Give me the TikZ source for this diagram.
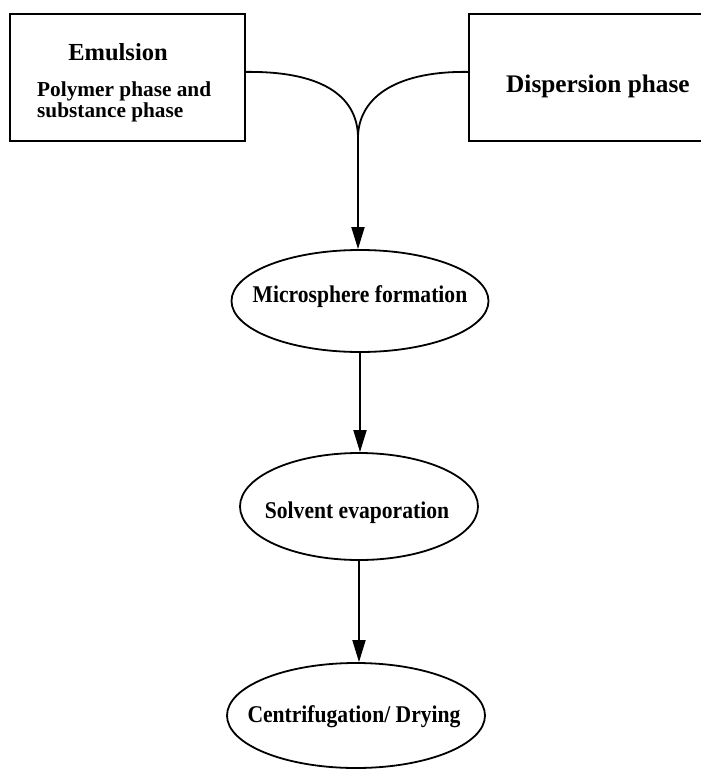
\documentclass[tikz,border=0pt]{standalone}
\usepackage{graphicx}
\usepackage{fontspec}
\setmainfont{Liberation Serif}
\usetikzlibrary{shapes.geometric,arrows.meta}
\newcommand{\narrowtxt}[1]{\scalebox{0.9}[1]{#1}}
\begin{document}
\begin{tikzpicture}[x=1pt,y=-1pt,
  box/.style={draw,line width=1.8pt,rectangle,inner sep=0pt,anchor=north west},
  oval/.style={draw,ellipse,line width=1.8pt,inner sep=0pt},
  otext/.style={font=\bfseries\fontsize{24}{26}\selectfont,inner sep=0pt,anchor=base},
  conn/.style={line width=1.8pt},
  arr/.style={conn,-{Triangle[length=22pt,width=13pt]}},
  head/.style={font=\bfseries\fontsize{24.5}{26}\selectfont,inner sep=0pt},
  sub/.style={font=\bfseries\fontsize{21.3}{22}\selectfont,inner sep=0pt,anchor=base west}
]
\useasboundingbox (0,0) rectangle (701,769);
\clip (0,0) rectangle (701,769);
% boxes
\node[box,minimum width=235pt,minimum height=127pt] (emul) at (9,13) {};
\node[box,minimum width=260pt,minimum height=127pt] (disp) at (468,13) {};
\node[head,anchor=base] (emt) at (118,60) {Emulsion};
\node[sub] (pol1) at (37,96) {Polymer phase and};
\node[sub] (pol2) at (37,117) {substance phase};
\node[head,anchor=base west,font=\bfseries\fontsize{25.3}{27}\selectfont] (dpt) at (506,92) {Dispersion phase};
% ellipses
\node[oval,minimum width=257pt,minimum height=102pt] (e1) at (360,301) {};
\node[oval,minimum width=238pt,minimum height=107pt] (e2) at (359,506.5) {};
\node[oval,minimum width=258pt,minimum height=105pt] (e3) at (356,715.5) {};
\node[otext] (t1) at (360,302) {\narrowtxt{Microsphere formation}};
\node[otext] (t2) at (357,518) {\narrowtxt{Solvent evaporation}};
\node[otext] (t3) at (354,722) {\narrowtxt{Centrifugation/ Drying}};
% connectors
\coordinate (m) at (358,138);
\draw[conn] ([yshift=5.5pt]emul.east) .. controls (328,71) and (358,100) .. (m);
\draw[conn] ([yshift=5.5pt]disp.west) .. controls (392,71) and (358,100) .. (m);
\draw[arr] (m) -- (m |- e1.north);
\draw[arr] (e1.south) -- (e1.south |- e2.north);
\draw[arr] (e2.south) -- (e2.south |- e3.north);
\end{tikzpicture}
\end{document}
